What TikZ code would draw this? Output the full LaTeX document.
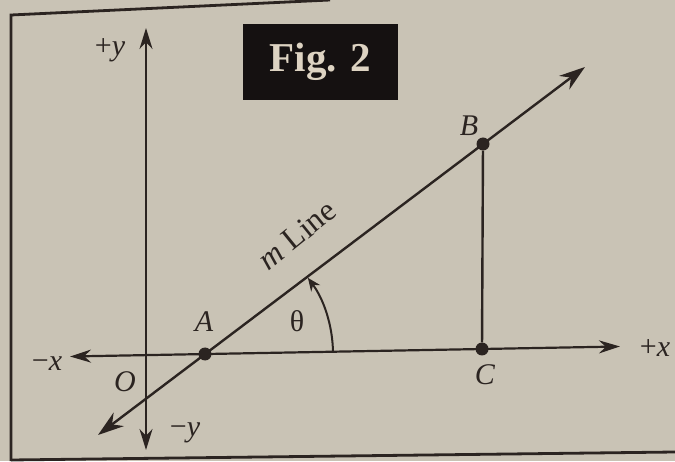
\documentclass[tikz,border=0pt]{standalone}
\usepackage{fontspec}
\setmainfont{Liberation Serif}
\usetikzlibrary{arrows.meta}
\definecolor{paper}{HTML}{C9C3B5}
\definecolor{ink}{HTML}{2B2421}
\definecolor{tag}{HTML}{151111}
\definecolor{tagtext}{HTML}{DDD3C2}

\begin{document}
\begin{tikzpicture}[
  x=1pt, y=1pt,
  axis/.style={draw=ink, line width=2.2pt, {Stealth[length=21pt,width=13pt]}-{Stealth[length=21pt,width=13pt]}},
  mline/.style={draw=ink, line width=2.4pt, {Stealth[length=26pt,width=17pt]}-{Stealth[length=26pt,width=17pt]}},
  edge/.style={draw=ink, line width=2.4pt},
  dot/.style={circle, fill=ink, inner sep=0pt, minimum size=13pt},
  lbl/.style={text=ink, inner sep=0pt, font=\fontsize{30}{32}\selectfont},
  turn/.style={draw=ink, line width=2pt, -{Stealth[length=13pt,width=11pt]}}
]
\fill[paper] (0,0) rectangle (675,461);
\useasboundingbox (0,0) rectangle (675,461);
% frame of the figure
\draw[edge, line width=2.8pt] (330,461) -- (11,446) -- (11,0);
\draw[edge, line width=2.8pt] (11,1) -- (675,9);
% title tag
\node[fill=tag, text=tagtext, minimum width=155pt, minimum height=76pt,
  font=\fontsize{41}{43}\selectfont\bfseries] (fig) at (320.5,399) {Fig. 2};

% axes
\coordinate (xl) at (70,104.5);
\coordinate (xr) at (620,114.5);
\coordinate (yt) at (146,433);
\coordinate (yb) at (146,11);
\draw[axis] (xl) -- (xr);
\draw[axis] (yb) -- (yt);

% points and the line m
\node[dot] (A) at (205,107) {};
\node[dot] (B) at (483,317) {};
\node[dot] (C) at (482,112) {};
\coordinate (mlo) at (98,26);
\coordinate (mhi) at (585,394);
\draw[mline] (mlo) -- (mhi);
\draw[edge] (B) -- (C);

% angle theta
\draw[turn] ([shift={(1:128)}]A.center) arc[start angle=1, end angle=36.5, radius=128];

% labels
\node[lbl] (py) at (110,411) {+\textit{y}};
\node[lbl] (ny) at (185,28) {−\textit{y}};
\node[lbl] (nx) at (47,97) {−\textit{x}};
\node[lbl] (px) at (655,113) {+\textit{x}};
\node[lbl] (o) at (125,79) {\textit{O}};
\node[lbl] (la) at (204,139) {\textit{A}};
\node[lbl] (lb) at (469,335) {\textit{B}};
\node[lbl] (lc) at (485,86) {\textit{C}};
\node[lbl] (th) at (297,140) {θ};
\node[lbl, font=\fontsize{32}{34}\selectfont, rotate=39] (ml) at (297,226) {\textit{m} Line};
\end{tikzpicture}
\end{document}
